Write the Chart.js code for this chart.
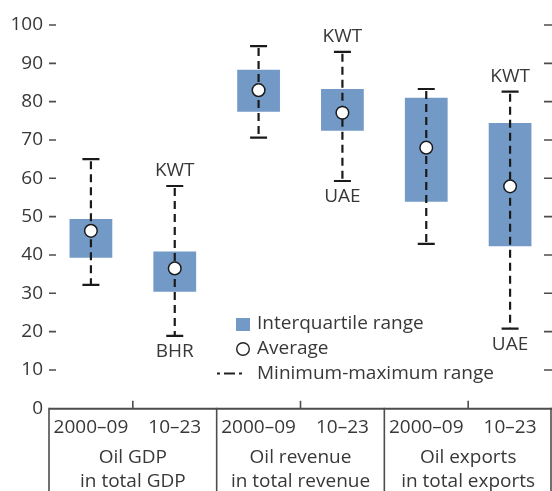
<!DOCTYPE html>
<html lang="en">
<head>
<meta charset="UTF-8">
<title>Oil dependence ranges</title>
<script src="https://cdn.jsdelivr.net/npm/chart.js"></script>
<style>
  * { margin: 0; padding: 0; }
  body { background: #fff; }
  #wrap { width: 552px; height: 491px; position: relative; }
</style>
</head>
<body>
<div id="wrap"><canvas id="chart"></canvas></div>
<script>
// data
const periods = ['2000–09', '10–23', '2000–09', '10–23', '2000–09', '10–23'];
const groups = [['Oil GDP', 'in total GDP'], ['Oil revenue', 'in total revenue'], ['Oil exports', 'in total exports']];
const q1 = [39.3, 30.4, 77.4, 72.4, 53.9, 42.3];
const q3 = [49.4, 40.9, 88.3, 83.3, 81.0, 74.4];
const avg = [46.3, 36.5, 83.0, 77.1, 68.0, 57.9];
const minVals = [32.2, 18.9, 70.6, 59.3, 42.9, 20.8];
const maxVals = [65.0, 58.0, 94.5, 93.0, 83.3, 82.6];
const maxNotes = ['', 'KWT', '', 'KWT', '', 'KWT'];
const minNotes = ['', 'BHR', '', 'UAE', '', 'UAE'];
const legendLabels = ['Interquartile range', 'Average', 'Minimum-maximum range'];

const FONT = '19px "Open Sans"';
const TEXT = '#383838';
const LINE = '#4d4d4d';
const BLUE = '#7399c6';

const whiskers = {
  id: 'whiskers',
  beforeDatasetDraw(chart, args) {
    if (args.index !== 1) return;
    const { ctx } = chart;
    const x = chart.scales.x, y = chart.scales.y;
    ctx.save();
    for (let i = 0; i < avg.length; i++) {
      const px = x.getPixelForValue(i);
      const top = y.getPixelForValue(maxVals[i]);
      const bot = y.getPixelForValue(minVals[i]);
      ctx.strokeStyle = '#1a1a1a';
      ctx.lineWidth = 2.2;
      ctx.setLineDash([8, 5]);
      ctx.beginPath();
      ctx.moveTo(px, top + 2);
      ctx.lineTo(px, bot);
      ctx.stroke();
      ctx.setLineDash([]);
      ctx.beginPath();
      ctx.moveTo(px - 8.5, top); ctx.lineTo(px + 8.5, top);
      ctx.moveTo(px - 8.5, bot); ctx.lineTo(px + 8.5, bot);
      ctx.stroke();
      ctx.fillStyle = TEXT;
      ctx.font = FONT;
      ctx.textAlign = 'center';
      ctx.textBaseline = 'middle';
      if (maxNotes[i]) ctx.fillText(maxNotes[i], px, top - 15);
      if (minNotes[i]) ctx.fillText(minNotes[i], px, bot + 16);
    }
    ctx.restore();
  }
};

const frame = {
  id: 'frame',
  afterDraw(chart) {
    const { ctx, chartArea: a } = chart;
    const x = chart.scales.x, y = chart.scales.y;
    ctx.save();
    ctx.strokeStyle = LINE;
    ctx.lineWidth = 1.6;
    // short tick marks on both sides
    for (let v = 10; v <= 100; v += 10) {
      const py = y.getPixelForValue(v);
      ctx.beginPath();
      ctx.moveTo(a.left, py); ctx.lineTo(a.left + 7, py);
      ctx.moveTo(a.right - 8, py); ctx.lineTo(a.right, py);
      ctx.stroke();
    }
    // x axis line
    const base = y.getPixelForValue(0) + 0.5;
    ctx.lineWidth = 2;
    ctx.beginPath();
    ctx.moveTo(a.left, base); ctx.lineTo(a.right, base);
    ctx.stroke();
    const step = x.getPixelForValue(1) - x.getPixelForValue(0);
    ctx.lineWidth = 1.6;
    for (let i = 0; i <= periods.length; i++) {
      const px = Math.min(x.getPixelForValue(0) - step / 2 + i * step, a.right - 1);
      ctx.beginPath();
      if (i % 2 === 0) {
        ctx.moveTo(px, base - 1); ctx.lineTo(px, chart.height);
      } else {
        ctx.moveTo(px, base); ctx.lineTo(px, base - 8);
      }
      ctx.stroke();
    }
    // category and group labels
    ctx.fillStyle = TEXT;
    ctx.font = FONT;
    ctx.textAlign = 'center';
    ctx.textBaseline = 'middle';
    periods.forEach((p, i) => ctx.fillText(p, x.getPixelForValue(i), 428));
    groups.forEach((g, j) => {
      const cx = (x.getPixelForValue(2 * j) + x.getPixelForValue(2 * j + 1)) / 2;
      ctx.fillText(g[0], cx, 458);
      ctx.fillText(g[1], cx, 482);
    });
    // legend
    ctx.textAlign = 'left';
    ctx.fillStyle = BLUE;
    ctx.fillRect(236, 318, 14, 13);
    ctx.beginPath();
    ctx.arc(243, 349, 6.3, 0, Math.PI * 2);
    ctx.strokeStyle = '#222';
    ctx.lineWidth = 1.4;
    ctx.stroke();
    ctx.lineWidth = 2;
    ctx.beginPath();
    ctx.moveTo(217, 373.5); ctx.lineTo(220, 373.5);
    ctx.moveTo(224, 373.5); ctx.lineTo(235, 373.5);
    ctx.moveTo(239, 373.5); ctx.lineTo(242, 373.5);
    ctx.stroke();
    ctx.fillStyle = TEXT;
    ctx.fillText(legendLabels[0], 257, 324);
    ctx.fillText(legendLabels[1], 257, 349);
    ctx.fillText(legendLabels[2], 257, 374);
    ctx.restore();
  }
};

new Chart(document.getElementById('chart'), {
  type: 'bar',
  data: {
    labels: periods,
    datasets: [{
      type: 'bar',
      data: q1.map((v, i) => [v, q3[i]]),
      backgroundColor: BLUE,
      borderWidth: 0,
      barPercentage: 0.51,
      categoryPercentage: 1,
      order: 2
    }, {
      type: 'line',
      data: avg,
      showLine: false,
      pointRadius: 6.3,
      pointBackgroundColor: '#fff',
      pointBorderColor: '#1a1a1a',
      pointBorderWidth: 1.5,
      order: 1
    }]
  },
  options: {
    responsive: true,
    maintainAspectRatio: false,
    animation: false,
    layout: { autoPadding: false, padding: { top: 25, bottom: 82.7, left: 0, right: 0 } },
    plugins: { legend: { display: false }, tooltip: { enabled: false } },
    scales: {
      x: { display: false, offset: true },
      y: {
        min: 0, max: 100,
        afterFit(s) { s.width = 49; },
        grid: { display: false, drawTicks: false },
        border: { display: false },
        ticks: { stepSize: 10, padding: 6, color: TEXT, font: { family: 'Open Sans', size: 19 } }
      }
    }
  },
  plugins: [whiskers, frame]
});
</script>
</body>
</html>
